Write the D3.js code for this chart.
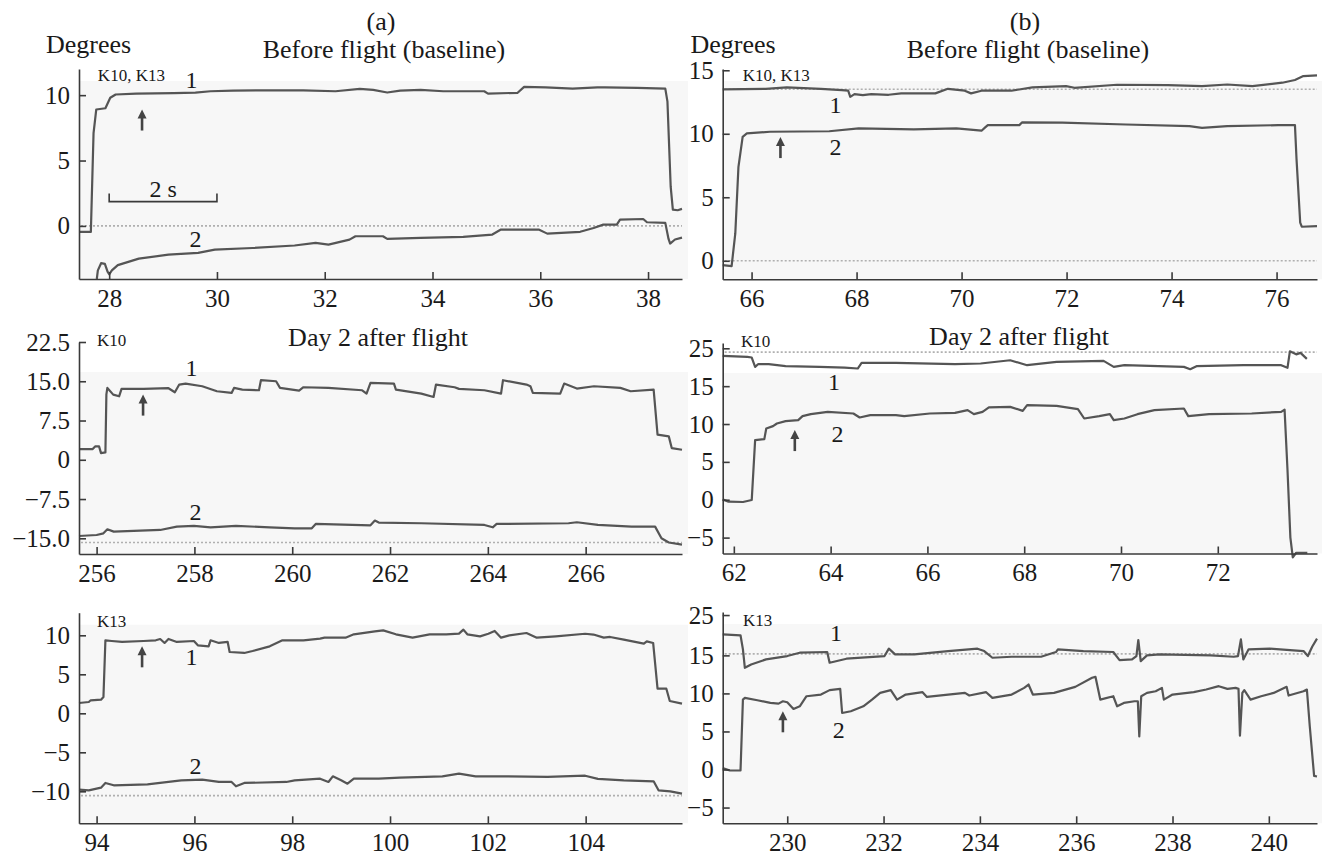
<!DOCTYPE html>
<html><head><meta charset="utf-8">
<script src="https://cdn.jsdelivr.net/npm/d3@7"></script>
<style>
body{margin:0;background:#fff;}
svg text{font-family:"Liberation Serif","DejaVu Serif","Times New Roman",Times,serif;fill:#1a1a1a;}
</style></head><body>
<svg id="chart" width="1322" height="858" font-family="Liberation Serif, DejaVu Serif, serif"></svg>
<script>
// ---------------- DATA ----------------
// Panel (a) before flight, K10/K13 ; time (s) vs degrees
const A1_line1 = [[27.44,-0.46],[27.66,-0.46],[27.71,7.1],[27.76,8.9],[27.93,9.0],[28.02,9.8],[28.12,10.05],[28.5,10.12],[29.2,10.15],[29.6,10.2],[29.88,10.3],[30.3,10.35],[31.0,10.37],[31.6,10.36],[32.2,10.3],[32.65,10.48],[32.9,10.4],[33.16,10.2],[33.4,10.35],[33.78,10.4],[34.2,10.3],[34.96,10.3],[35.03,10.12],[35.58,10.18],[35.7,10.63],[36.1,10.6],[36.6,10.5],[37.06,10.6],[37.2,10.6],[37.8,10.55],[38.32,10.5],[38.36,9.5],[38.42,3.0],[38.46,1.24],[38.55,1.2],[38.63,1.3]];
const A1_line2 = [[27.77,-4.06],[27.79,-3.4],[27.85,-2.85],[27.92,-2.9],[27.97,-3.5],[28.0,-3.7],[28.05,-3.4],[28.16,-3.0],[28.55,-2.5],[29.1,-2.2],[29.65,-2.06],[29.96,-1.81],[30.66,-1.69],[31.44,-1.5],[31.83,-1.3],[32.07,-1.43],[32.46,-1.05],[32.57,-0.79],[33.08,-0.79],[33.16,-0.99],[33.78,-0.92],[34.57,-0.84],[35.11,-0.66],[35.27,-0.28],[35.97,-0.28],[36.13,-0.59],[36.74,-0.45],[36.99,-0.16],[37.17,0.1],[37.42,0.1],[37.48,0.48],[37.91,0.53],[37.98,0.28],[38.32,0.23],[38.38,-1.0],[38.41,-1.35],[38.5,-1.04],[38.63,-0.9]];
// Panel (b) before flight
const B1_line1 = [[65.45,13.49],[66.27,13.54],[66.67,13.65],[67.32,13.54],[67.72,13.44],[67.84,13.39],[67.88,12.91],[67.96,13.12],[68.12,13.04],[68.28,13.12],[68.61,13.07],[68.85,13.18],[69.5,13.18],[69.74,13.54],[70.06,13.39],[70.18,13.18],[70.38,13.39],[70.95,13.39],[71.35,13.65],[71.99,13.75],[72.15,13.62],[72.96,13.86],[73.93,13.83],[74.58,13.75],[75.06,13.88],[75.54,13.75],[76.11,14.02],[76.35,14.23],[76.51,14.54],[76.77,14.6]];
const B1_line2 = [[65.45,-0.34],[65.62,-0.42],[65.69,2.15],[65.75,7.4],[65.83,9.76],[65.91,10.03],[66.35,10.16],[67.48,10.2],[68.04,10.42],[69.09,10.34],[69.9,10.42],[70.38,10.24],[70.45,10.5],[70.5,10.68],[71.1,10.68],[71.15,10.89],[71.92,10.87],[73.13,10.73],[74.34,10.6],[74.58,10.47],[75.06,10.6],[76.03,10.68],[76.35,10.68],[76.38,8.0],[76.45,3.0],[76.48,2.68],[76.77,2.72]];
// Day 2 after flight, K10
const A2_line1 = [[255.64,2.04],[255.92,2.04],[255.97,2.55],[256.05,2.55],[256.09,1.28],[256.18,1.4],[256.2,12.5],[256.22,13.73],[256.34,12.45],[256.46,12.13],[256.51,13.54],[256.96,13.54],[257.47,13.67],[257.6,12.9],[257.69,14.37],[257.82,14.56],[258.16,14.05],[258.46,13.09],[258.76,12.77],[258.81,13.73],[258.98,13.41],[259.32,13.28],[259.36,15.2],[259.67,15.0],[259.75,13.73],[260.14,13.22],[260.23,13.86],[260.74,13.73],[261.43,13.28],[261.52,12.64],[261.6,14.69],[262.08,14.56],[262.12,13.41],[262.64,12.64],[262.89,12.0],[262.94,14.37],[263.32,13.86],[263.41,13.54],[263.93,13.28],[264.27,12.64],[264.31,15.2],[264.79,14.37],[264.87,14.05],[264.92,12.77],[265.48,12.64],[265.56,14.56],[265.82,13.6],[266.17,14.05],[266.71,13.73],[266.92,13.09],[267.39,13.41],[267.47,4.79],[267.7,4.47],[267.76,2.23],[267.97,1.92]];
const A2_line2 = [[255.64,-14.56],[256.0,-14.37],[256.14,-14.05],[256.22,-13.28],[256.35,-13.73],[257.3,-13.41],[257.64,-12.77],[257.99,-12.64],[258.33,-12.9],[258.85,-12.64],[259.54,-12.9],[260.05,-13.09],[260.4,-13.09],[260.48,-12.26],[261.6,-12.52],[261.69,-11.62],[261.77,-12.0],[262.64,-12.13],[263.93,-12.45],[264.1,-12.9],[264.18,-12.26],[265.65,-12.13],[265.82,-11.94],[266.25,-12.45],[266.94,-12.77],[267.42,-12.77],[267.55,-15.0],[267.7,-15.8],[267.97,-16.2]];
const B2_line1 = [[61.77,19.0],[62.28,18.87],[62.37,18.78],[62.44,17.55],[62.5,17.9],[62.72,17.9],[63.07,17.64],[63.77,17.55],[64.29,17.46],[64.56,17.33],[64.64,18.07],[65.35,18.07],[66.57,17.9],[67.1,17.99],[67.71,18.42],[68.06,17.77],[68.67,18.21],[69.64,18.34],[69.85,17.55],[70.07,17.77],[71.3,17.55],[71.43,17.24],[71.56,17.64],[72.53,17.77],[73.31,17.77],[73.44,17.42],[73.49,19.6],[73.62,19.2],[73.71,19.4],[73.84,18.6]];
const B2_line2 = [[61.77,0.05],[61.89,-0.26],[62.19,-0.3],[62.37,-0.04],[62.44,7.87],[62.63,8.0],[62.67,9.41],[62.81,9.72],[62.89,10.07],[63.07,10.38],[63.33,10.51],[63.42,11.04],[63.59,11.3],[63.94,11.61],[64.47,11.39],[64.6,10.86],[64.82,11.17],[65.35,11.17],[65.52,11.04],[66.05,11.39],[66.57,11.48],[66.83,11.83],[66.96,11.3],[67.14,11.61],[67.27,12.19],[67.71,12.27],[67.97,11.74],[68.06,12.49],[68.67,12.4],[69.11,11.96],[69.24,10.73],[69.55,11.04],[69.77,11.3],[69.85,10.51],[70.07,10.73],[70.34,11.3],[70.69,11.83],[71.3,12.05],[71.39,11.04],[71.82,11.3],[72.7,11.39],[73.31,11.61],[73.38,11.9],[73.44,4.0],[73.5,-5.0],[73.55,-7.6],[73.62,-7.0],[73.85,-7.0]];
// Day 2 after flight, K13
const A3_line1 = [[93.64,1.32],[93.84,1.45],[93.88,1.67],[94.09,1.75],[94.14,2.09],[94.18,9.36],[94.31,9.27],[94.52,9.15],[94.96,9.27],[95.21,9.36],[95.3,9.53],[95.39,9.02],[95.47,9.53],[95.64,9.15],[95.99,9.27],[96.07,8.72],[96.29,8.59],[96.33,9.36],[96.5,9.02],[96.68,9.15],[96.72,7.86],[97.02,7.74],[97.19,7.99],[97.54,8.59],[97.8,9.36],[98.23,9.36],[98.57,9.57],[98.66,9.7],[99.09,9.7],[99.26,10.13],[99.69,10.51],[99.86,10.64],[100.12,10.13],[100.46,9.7],[100.81,10.13],[101.15,10.13],[101.41,10.21],[101.5,10.73],[101.58,10.13],[101.84,9.87],[102.01,10.21],[102.14,10.56],[102.27,9.7],[102.44,10.0],[102.79,10.3],[103.0,9.7],[103.39,9.87],[103.99,10.2],[104.16,10.1],[104.37,9.7],[104.5,9.79],[104.78,9.45],[105.19,8.93],[105.25,9.23],[105.38,9.02],[105.47,3.16],[105.65,3.16],[105.72,1.58],[105.97,1.24]];
const A3_line2 = [[93.64,-9.79],[93.84,-9.87],[94.09,-9.53],[94.18,-8.93],[94.35,-9.23],[95.04,-9.1],[95.47,-8.8],[95.73,-8.59],[96.16,-8.5],[96.5,-8.8],[96.76,-8.8],[96.85,-9.36],[97.02,-8.93],[97.88,-8.8],[98.05,-8.59],[98.57,-8.38],[98.74,-8.8],[98.83,-8.08],[99.0,-8.59],[99.13,-9.02],[99.26,-8.38],[99.77,-8.38],[100.2,-8.25],[101.07,-8.08],[101.41,-7.74],[101.75,-8.08],[102.36,-8.08],[103.22,-8.16],[103.99,-8.0],[104.25,-8.4],[104.78,-8.59],[105.39,-8.72],[105.49,-9.87],[105.73,-10.0],[105.97,-10.3]];
const B3_line1 = [[228.66,17.77],[229.03,17.64],[229.08,15.79],[229.12,13.37],[229.25,13.81],[229.56,14.47],[230.0,14.91],[230.26,15.35],[230.83,15.44],[230.88,14.03],[231.23,14.56],[232.02,14.91],[232.11,15.88],[232.24,15.13],[232.64,15.13],[233.34,15.57],[233.95,15.88],[234.09,15.57],[234.26,14.69],[234.66,14.82],[235.27,14.82],[235.58,15.44],[235.62,15.79],[236.15,15.57],[236.77,15.44],[236.9,14.38],[237.16,14.47],[237.25,14.91],[237.29,17.02],[237.34,14.25],[237.47,15.0],[237.73,15.13],[238.79,15.0],[239.27,14.82],[239.36,14.91],[239.42,17.1],[239.47,14.47],[239.58,15.79],[240.02,15.88],[240.72,15.57],[240.81,14.91],[240.9,16.14],[241.0,17.2]];
const B3_line2 = [[228.66,0.18],[228.81,-0.13],[229.03,-0.13],[229.08,9.19],[229.12,9.41],[229.38,9.1],[229.65,8.75],[229.82,8.66],[229.91,8.97],[230.0,8.84],[230.13,7.96],[230.26,8.31],[230.4,9.63],[230.7,9.85],[230.88,10.43],[231.1,10.6],[231.14,7.43],[231.32,7.66],[231.58,8.31],[231.76,9.19],[231.93,10.07],[232.15,10.43],[232.28,9.19],[232.46,9.85],[232.81,10.16],[232.9,9.54],[233.34,9.85],[233.69,10.07],[233.78,9.72],[234.13,10.16],[234.26,9.41],[234.66,9.85],[234.92,10.73],[235.01,11.17],[235.1,9.85],[235.54,10.07],[235.98,10.86],[236.33,12.05],[236.4,12.18],[236.5,9.19],[236.77,9.63],[236.85,8.31],[236.99,8.75],[237.21,8.97],[237.28,8.97],[237.31,4.36],[237.35,9.63],[237.47,10.07],[237.65,10.29],[237.78,10.73],[237.82,9.19],[238.0,9.85],[238.44,10.16],[238.7,10.51],[238.96,10.95],[239.14,10.6],[239.31,10.73],[239.37,10.6],[239.4,4.45],[239.45,10.07],[239.49,10.43],[239.62,9.19],[239.84,9.63],[240.1,10.07],[240.37,10.86],[240.41,9.72],[240.72,10.29],[240.79,10.51],[240.85,5.68],[240.94,-0.84],[241.0,-0.92]];

// tick values & labels
const A1_xTicks = [28,30,32,34,36,38];
const B1_xTicks = [66,68,70,72,74,76];
const A2_xTicks = [256,258,260,262,264,266];
const B2_xTicks = [62,64,66,68,70,72];
const A3_xTicks = [94,96,98,100,102,104];
const B3_xTicks = [230,232,234,236,238,240];
const A1_yTicks = [0,5,10];            const A1_yLabels = ["0","5","10"];
const B1_yTicks = [0,5,10,15];         const B1_yLabels = ["0","5","10","15"];
const A2_yTicks = [-15,-7.5,0,7.5,15,22.5]; const A2_yLabels = ["\u221215.0","\u22127.5","0","7.5","15.0","22.5"];
const B2_yTicks = [-5,0,5,10,15,20];   const B2_yLabels = ["\u22125","0","5","10","15","25"];
const A3_yTicks = [-10,-5,0,5,10];     const A3_yLabels = ["\u221210","\u22125","0","5","10"];
const B3_yTicks = [-5,0,5,10,15,20.3]; const B3_yLabels = ["\u22125","0","5","10","15","25"];
// dotted reference levels
const A1_refs = [0], B1_refs = [13.5, 0], A2_refs = [-15.8], B2_refs = [19.5], A3_refs = [-10.55], B3_refs = [15.2];
// in-plot labels [time, degrees, text, anchor, size]
const A1_notes = [[27.79,11.12,"K10, K13","start",17],[29.53,10.58,"1","middle",24],[29.6,-1.58,"2","middle",24],[29.0,2.24,"2 s","middle",24]];
const B1_notes = [[65.83,14.15,"K10, K13","start",17],[67.6,11.63,"1","middle",24],[67.6,8.32,"2","middle",24]];
const A2_notes = [[256.01,21.65,"K10","start",17],[257.94,15.96,"1","middle",24],[258.02,-11.49,"2","middle",24]];
const B2_notes = [[62.15,20.15,"K10","start",17],[64.07,14.47,"1","middle",24],[64.14,7.65,"2","middle",24]];
const A3_notes = [[94.01,11.06,"K13","start",17],[95.94,6.15,"1","middle",24],[96.02,-7.73,"2","middle",24]];
const B3_notes = [[229.08,18.87,"K13","start",17],[231.01,16.89,"1","middle",24],[231.07,4.14,"2","middle",24]];
// arrows (time, degrees of tip)
const A1_arrow = [28.61,8.9], B1_arrow = [66.55,9.74], A2_arrow = [256.95,12.45], B2_arrow = [63.26,9.2], A3_arrow = [94.93,8.59], B3_arrow = [229.91,7.65];
const A1_scaleBar = [28,30,1.86];

// ---------------- LAYOUT ----------------
const panels = [
 {left:79, right:682, top:69, bottom:279, xd:[27.44,38.63], yd:[-4.06,12.0], bg:12, series:[A1_line1,A1_line2], xt:A1_xTicks, yt:A1_yTicks, yl:A1_yLabels, refs:A1_refs, notes:A1_notes, arrow:A1_arrow, bar:A1_scaleBar},
 {left:722.7, right:1317, top:69, bottom:279.3, xd:[65.45,76.77], yd:[-1.46,15.1], bg:12, series:[B1_line1,B1_line2], xt:B1_xTicks, yt:B1_yTicks, yl:B1_yLabels, refs:B1_refs, notes:B1_notes, arrow:B1_arrow},
 {left:79, right:682, top:342, bottom:554, xd:[255.64,267.97], yd:[-18.0,22.5], bg:30, series:[A2_line1,A2_line2], xt:A2_xTicks, yt:A2_yTicks, yl:A2_yLabels, refs:A2_refs, notes:A2_notes, arrow:A2_arrow},
 {left:722.7, right:1317, top:343, bottom:553.5, xd:[61.77,74.05], yd:[-7.1,20.7], bg:30, series:[B2_line1,B2_line2], xt:B2_xTicks, yt:B2_yTicks, yl:B2_yLabels, refs:B2_refs, notes:B2_notes, arrow:B2_arrow},
 {left:79, right:682, top:612.7, bottom:823.3, xd:[93.64,105.97], yd:[-14.1,12.9], bg:12, series:[A3_line1,A3_line2], xt:A3_xTicks, yt:A3_yTicks, yl:A3_yLabels, refs:A3_refs, notes:A3_notes, arrow:A3_arrow},
 {left:722.7, right:1317, top:612, bottom:823.3, xd:[228.66,241.0], yd:[-7.07,20.7], bg:12, series:[B3_line1,B3_line2], xt:B3_xTicks, yt:B3_yTicks, yl:B3_yLabels, refs:B3_refs, notes:B3_notes, arrow:B3_arrow}
];

const FONT = '"Liberation Serif", "DejaVu Serif", "Times New Roman", serif';
const svg = d3.select('#chart');
const INK = '#3a3a3a', LINE = '#555';

panels.forEach(p => {
  const x = d3.scaleLinear().domain(p.xd).range([p.left, p.right]);
  const y = d3.scaleLinear().domain(p.yd).range([p.bottom, p.top]);
  const g = svg.append('g');
  g.append('rect').attr('x', p.left + 1).attr('y', p.top + p.bg)
    .attr('width', p.right - p.left + 5).attr('height', p.bottom - p.top - p.bg)
    .attr('fill', '#f7f7f7');
  p.refs.forEach(r => g.append('line')
    .attr('x1', p.left + 2).attr('x2', p.right).attr('y1', y(r)).attr('y2', y(r))
    .attr('stroke', '#b0b0b0').attr('stroke-width', 1.6).attr('stroke-dasharray', '2,2'));
  const line = d3.line().x(d => x(d[0])).y(d => y(d[1]));
  p.series.forEach(s => g.append('path').datum(s).attr('d', line)
    .attr('fill', 'none').attr('stroke', LINE).attr('stroke-width', 2.2)
    .attr('stroke-linejoin', 'round'));

  const xa = g.append('g').attr('transform', `translate(0,${p.bottom})`)
    .call(d3.axisBottom(x).tickValues(p.xt).tickFormat(d3.format('d'))
      .tickSizeInner(-7).tickSizeOuter(0).tickPadding(10));
  const ya = g.append('g').attr('transform', `translate(${p.left},0)`)
    .call(d3.axisLeft(y).tickValues(p.yt).tickFormat((d, i) => p.yl[i])
      .tickSizeInner(-7).tickSizeOuter(0).tickPadding(9));
  [xa, ya].forEach(a => {
    a.attr('font-family', FONT).attr('font-size', 25);
    a.selectAll('path,line').attr('stroke', INK).attr('stroke-width', 1.6);
    a.selectAll('text').attr('fill', '#1a1a1a').style('font-family', FONT).style('font-size', '25px');
  });

  p.notes.forEach(n => g.append('text').attr('x', x(n[0])).attr('y', y(n[1]))
    .attr('text-anchor', n[3]).style('font-family', FONT).style('font-size', n[4] + 'px').text(n[2]));

  // arrow
  const ax = x(p.arrow[0]), ay = y(p.arrow[1]);
  g.append('line').attr('x1', ax).attr('x2', ax).attr('y1', ay + 6).attr('y2', ay + 21)
    .attr('stroke', '#444').attr('stroke-width', 2.6);
  g.append('path').attr('d', `M${ax},${ay} L${ax - 4.5},${ay + 9} L${ax + 4.5},${ay + 9} Z`).attr('fill', '#444');

  if (p.bar) {
    const by = y(p.bar[2]);
    g.append('path').attr('d', `M${x(p.bar[0])},${by - 8} V${by} H${x(p.bar[1])} V${by - 8}`)
      .attr('fill', 'none').attr('stroke', INK).attr('stroke-width', 1.6);
  }
});

// headers
const headers = [
  [381, 30, "(a)", "middle"], [1025, 30, "(b)", "middle"],
  [46, 53, "Degrees", "start"], [690.5, 53, "Degrees", "start"],
  [384, 58, "Before flight (baseline)", "middle"], [1028, 58, "Before flight (baseline)", "middle"],
  [378, 346, "Day 2 after flight", "middle"], [1019, 345, "Day 2 after flight", "middle"]
];
headers.forEach(h => svg.append('text').attr('x', h[0]).attr('y', h[1])
  .attr('text-anchor', h[3]).style('font-family', FONT).style('font-size', '26px').text(h[2]));
</script>
</body></html>
